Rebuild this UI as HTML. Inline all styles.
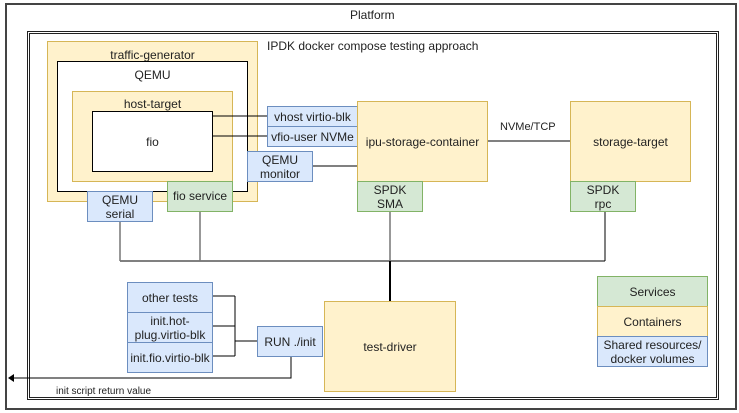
<!DOCTYPE html>
<html><head><meta charset="utf-8"><style>
*{margin:0;padding:0;box-sizing:border-box}
body{width:739px;height:413px;background:#fff;position:relative;overflow:hidden;font-family:"Liberation Sans",Arial,sans-serif;font-size:12px;color:#222}
.b{position:absolute;display:flex;align-items:center;justify-content:center;text-align:center;line-height:14px}
.y{background:#fff2cc;border:1px solid #d6b656}
.g{background:#d5e8d4;border:1px solid #82b366}
.u{background:#dae8fc;border:1px solid #6c8ebf}
.w{background:#fff;border:1.5px solid #000}
.t{position:absolute;white-space:nowrap}
</style></head><body>
<div style="position:absolute;left:5px;top:3px;width:732px;height:407px;border:2px solid #444"></div>
<div class="t" style="left:350px;top:8px">Platform</div>
<div style="position:absolute;left:27px;top:31px;width:692px;height:369px;border:3px double #222"></div>
<div class="t" style="left:267px;top:39px">IPDK docker compose testing approach</div>

<div class="b y" style="left:47px;top:41px;width:211px;height:161px;align-items:flex-start;padding-top:6px">traffic-generator</div>
<div class="b w" style="left:57px;top:61px;width:191px;height:131px;align-items:flex-start;padding-top:6px">QEMU</div>
<div class="b y" style="left:72px;top:91px;width:161px;height:91px;align-items:flex-start;padding-top:5px">host-target</div>
<div class="b w" style="left:92px;top:111px;width:121px;height:61px">fio</div>

<div class="b u" style="left:267px;top:106px;width:91px;height:21px">vhost virtio-blk</div>
<div class="b u" style="left:267px;top:126px;width:91px;height:21px">vfio-user NVMe</div>
<div class="b u" style="left:247px;top:151px;width:66px;height:31px">QEMU<br>monitor</div>
<div class="b u" style="left:87px;top:191px;width:66px;height:31px">QEMU<br>serial</div>
<div class="b g" style="left:167px;top:181px;width:66px;height:31px;align-items:flex-start;padding-top:7px">fio service</div>

<div class="b y" style="left:357px;top:101px;width:131px;height:81px">ipu-storage-container</div>
<div class="b g" style="left:357px;top:181px;width:66px;height:31px">SPDK<br>SMA</div>
<div class="b y" style="left:570px;top:101px;width:121px;height:81px">storage-target</div>
<div class="b g" style="left:570px;top:181px;width:66px;height:31px">SPDK<br>rpc</div>
<div class="t" style="left:500px;top:121px;font-size:11px">NVMe/TCP</div>

<div class="b y" style="left:324px;top:301px;width:132px;height:91px">test-driver</div>
<div class="b u" style="left:127px;top:282px;width:86px;height:31px">other tests</div>
<div class="b u" style="left:127px;top:312px;width:86px;height:31px">init.hot-<br>plug.virtio-blk</div>
<div class="b u" style="left:127px;top:342px;width:86px;height:31px">init.fio.virtio-blk</div>
<div class="b u" style="left:257px;top:326px;width:66px;height:31px">RUN ./init</div>

<div class="b g" style="left:597px;top:276px;width:111px;height:31px">Services</div>
<div class="b y" style="left:597px;top:306px;width:111px;height:31px">Containers</div>
<div class="b u" style="left:597px;top:336px;width:111px;height:31px">Shared resources/<br>docker volumes</div>
<div class="t" style="left:56px;top:386px;font-size:10px">init script return value</div>

<svg width="739" height="413" style="position:absolute;left:0;top:0" fill="none">
<g stroke="#000" stroke-width="1">
<path d="M213 116H267M213 136H267M313 166H357M488 141H570"/>
<path d="M120 261H605M605 212V261"/>
<path d="M213 296H235M213 326H235M213 356H235M235 296V356M235 341H257"/>
<path d="M291 357V378H12"/>
</g>
<g stroke="#777" stroke-width="1.5"><path d="M120 222V261M200 212V261M390 212V261"/></g>
<path d="M390 261V301" stroke="#000" stroke-width="2"/>
<path d="M8 378L14 374V382Z" fill="#000"/>
</svg>
</body></html>
